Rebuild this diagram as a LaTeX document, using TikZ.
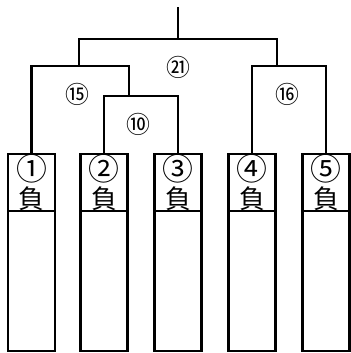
\documentclass[tikz,border=0pt]{standalone}
\usepackage{fontspec}
\newfontfamily\jp{Noto Sans CJK JP}
\usetikzlibrary{positioning}
\begin{document}
\begin{tikzpicture}[x=1bp,y=-1bp,line width=2.6bp,
   entry/.style={draw,outer sep=0pt,inner sep=0pt,minimum width=47bp,minimum height=57bp,
                 align=center,font=\jp\fontsize{26}{29}\selectfont},
   blank/.style={draw,outer sep=0pt,minimum width=47bp,minimum height=140bp},
   score/.style={font=\jp\fontsize{24}{24}\selectfont}]
   \useasboundingbox (0,0) rectangle (351,353);

   \foreach \n/\x/\c in {1/31.5/①,2/104/②,3/178/③,4/252/④,5/326/⑤}{
      \node[entry] (n\n) at (\x,182.5) {{\fontsize{31}{29}\selectfont\c}\\負};
      \node[blank, below=0pt of n\n] (b\n) {};
   }

   \coordinate (s10) at (129,96);
   \coordinate (s15) at (79,66);
   \coordinate (s16) at (277,66);
   \coordinate (s21) at (178,39);
   \coordinate (top) at (178,7);

   \draw (n2.north) |- (s10) -| (n3.north);
   \draw (n1.north) |- (s15) -| (s10);
   \draw (n4.north) |- (s16) -| (n5.north);
   \draw (s15) |- (s21) -| (s16);
   \draw (s21) -- (top);

   \node[score] (l21) at (178,67){㉑};
   \node[score] (l15) at (77,94){⑮};
   \node[score] (l10) at (138,124){⑩};
   \node[score] (l16) at (287,94){⑯};
\end{tikzpicture}
\end{document}
